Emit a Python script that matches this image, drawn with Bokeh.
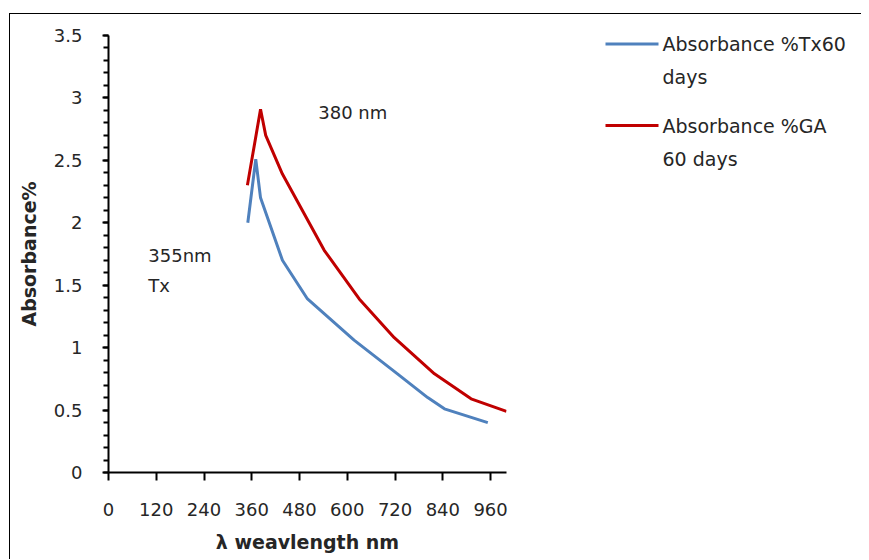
from bokeh.plotting import figure
from bokeh.layouts import row
from bokeh.models import Range1d, FixedTicker, Label
from bokeh.core.properties import value
from bokeh.embed import file_html
from bokeh.resources import INLINE

# Data
wavelength_tx = [350, 370, 382, 437, 500, 617, 726, 802, 844, 953]
absorbance_tx = [2.0, 2.51, 2.2, 1.7, 1.39, 1.06, 0.79, 0.6, 0.51, 0.4]
wavelength_ga = [349, 382, 395, 437, 542, 630, 718, 819, 911, 1000]
absorbance_ga = [2.3, 2.91, 2.7, 2.39, 1.78, 1.39, 1.08, 0.79, 0.59, 0.49]

x_ticks = [0, 120, 240, 360, 480, 600, 720, 840, 960]
y_ticks = [0, 0.5, 1, 1.5, 2, 2.5, 3, 3.5]
y_minor = [round(i * 0.1, 1) for i in range(36)]

series_names = [["Absorbance %Tx60", "days"], ["Absorbance %GA", "60 days"]]

FONT = "DejaVu Sans"
TXT = "#262626"
BLUE = "#4F81BD"
RED = "#C00000"
H = 545
TOP, BOTTOM = 21, 87
FRAME_H = H - TOP - BOTTOM

p = figure(width=590, height=H, output_backend="svg", toolbar_location=None,
           x_range=Range1d(0, 1000), y_range=Range1d(0, 3.5),
           min_border_left=98, min_border_right=94, min_border_top=TOP, min_border_bottom=BOTTOM)
p.outline_line_color = None
p.xgrid.visible = False
p.ygrid.visible = False

p.line(wavelength_tx, absorbance_tx, line_color=BLUE, line_width=3)
p.line(wavelength_ga, absorbance_ga, line_color=RED, line_width=3)

xa = p.xaxis[0]
xa.ticker = FixedTicker(ticks=x_ticks)
xa.axis_line_width = 2
xa.axis_line_color = "black"
xa.major_tick_line_width = 2
xa.major_tick_line_color = "black"
xa.major_tick_out = 8
xa.major_tick_in = 0
xa.minor_tick_line_color = None
xa.major_label_text_font = FONT
xa.major_label_text_font_size = "18px"
xa.major_label_text_color = TXT
xa.major_label_standoff = 22
xa.axis_label = "λ weavlength nm"
xa.axis_label_text_font = FONT
xa.axis_label_text_font_size = "19px"
xa.axis_label_text_font_style = "bold"
xa.axis_label_text_color = TXT
xa.axis_label_standoff = 12

ya = p.yaxis[0]
ya.ticker = FixedTicker(ticks=y_ticks, minor_ticks=y_minor)
ya.axis_line_width = 2
ya.axis_line_color = "black"
ya.major_tick_line_width = 2
ya.major_tick_line_color = "black"
ya.major_tick_out = 6
ya.major_tick_in = 0
ya.minor_tick_line_width = 2
ya.minor_tick_line_color = "black"
ya.minor_tick_out = 5
ya.minor_tick_in = 0
ya.major_label_text_font = FONT
ya.major_label_text_font_size = "18px"
ya.major_label_text_color = TXT
ya.major_label_standoff = 20
ya.axis_label = "Absorbance%"
ya.axis_label_text_font = FONT
ya.axis_label_text_font_size = "19px"
ya.axis_label_text_font_style = "bold"
ya.axis_label_text_color = TXT
ya.axis_label_standoff = 11

for txt, xv, yv in [("380 nm", 527, 2.88), ("355nm", 100, 1.74), ("Tx", 100, 1.5)]:
    p.add_layout(Label(x=xv, y=yv, text=txt, text_font=FONT, text_font_size="18px",
                       text_color=TXT, text_baseline="middle", text_align="left"))

# legend panel as its own figure; frame aligned with the main plot frame,
# coordinates in pixels from the frame top (y downward)
lg = figure(width=261, height=H, output_backend="svg", toolbar_location=None,
            x_range=Range1d(0, 261), y_range=Range1d(FRAME_H, 0),
            min_border_left=0, min_border_right=0,
            min_border_top=TOP, min_border_bottom=BOTTOM)
lg.axis.visible = False
lg.grid.visible = False
lg.outline_line_color = None

colors = [BLUE, RED]
rows_y = [8.5, 90]
for (first, second), c, yy in zip(series_names, colors, rows_y):
    lg.line([5, 58], [yy, yy], line_color=c, line_width=3)
    lg.text([62], [yy], text=[first], text_font=value(FONT), text_font_size="19px",
            text_color=TXT, text_baseline="middle", text_align="left")
    lg.text([62], [yy + 33], text=[second], text_font=value(FONT), text_font_size="19px",
            text_color=TXT, text_baseline="middle", text_align="left")

layout = row(p, lg)
layout.margin = (13, 0, 0, 9)
layout.styles = {"border-top": "1px solid black", "border-left": "1px solid black"}

open("out.html", "w").write(file_html(layout, INLINE))
